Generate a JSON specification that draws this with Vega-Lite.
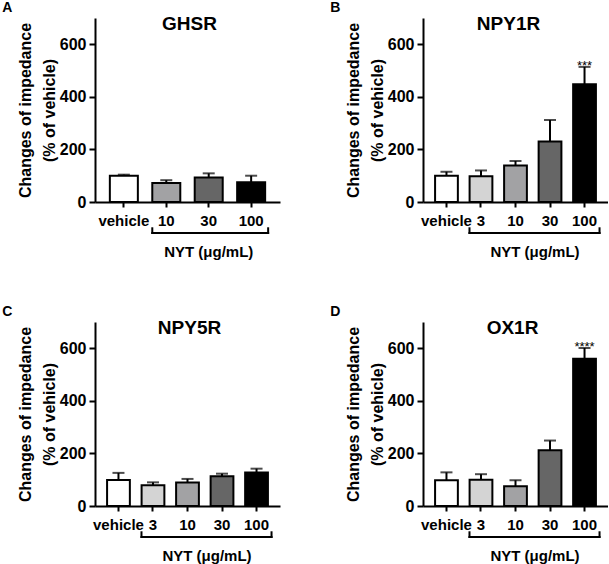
{
  "$schema": "https://vega.github.io/schema/vega-lite/v6.json",
  "background": "white",
  "padding": {"left": 2, "top": 1, "right": 0, "bottom": 0},
  "config": {
    "font": "Liberation Sans",
    "view": {"stroke": null},
    "axis": {"domainColor": "black", "domainWidth": 2, "tickColor": "black", "tickWidth": 2, "labelColor": "black", "labelFontWeight": "bold", "labelFontSize": 15, "titleFontWeight": "bold", "titleColor": "black", "titleFontSize": 16, "grid": false},
    "axisX": {"tickSize": 5, "labelAngle": 0, "labelPadding": 6},
    "axisY": {"tickSize": 6, "labelPadding": 3, "titlePadding": 2, "labelFontSize": 16, "titleLineHeight": 24},
    "title": {"color": "black", "fontWeight": "bold"}
  },
  "data": {"values": [
    {"panel": "A", "dose": "vehicle", "mean": 100, "upper": 104, "sig": ""},
    {"panel": "A", "dose": "10", "mean": 72, "upper": 83, "sig": ""},
    {"panel": "A", "dose": "30", "mean": 93, "upper": 109, "sig": ""},
    {"panel": "A", "dose": "100", "mean": 75, "upper": 100, "sig": ""},
    {"panel": "B", "dose": "vehicle", "mean": 100, "upper": 115, "sig": ""},
    {"panel": "B", "dose": "3", "mean": 98, "upper": 120, "sig": ""},
    {"panel": "B", "dose": "10", "mean": 139, "upper": 156, "sig": ""},
    {"panel": "B", "dose": "30", "mean": 230, "upper": 312, "sig": ""},
    {"panel": "B", "dose": "100", "mean": 448, "upper": 514, "sig": "***"},
    {"panel": "C", "dose": "vehicle", "mean": 99, "upper": 126, "sig": ""},
    {"panel": "C", "dose": "3", "mean": 79, "upper": 90, "sig": ""},
    {"panel": "C", "dose": "10", "mean": 89, "upper": 103, "sig": ""},
    {"panel": "C", "dose": "30", "mean": 113, "upper": 123, "sig": ""},
    {"panel": "C", "dose": "100", "mean": 127, "upper": 142, "sig": ""},
    {"panel": "D", "dose": "vehicle", "mean": 98, "upper": 128, "sig": ""},
    {"panel": "D", "dose": "3", "mean": 100, "upper": 121, "sig": ""},
    {"panel": "D", "dose": "10", "mean": 75, "upper": 98, "sig": ""},
    {"panel": "D", "dose": "30", "mean": 212, "upper": 249, "sig": ""},
    {"panel": "D", "dose": "100", "mean": 560, "upper": 601, "sig": "****"}
  ]},
  "columns": 2,
  "spacing": {"row": 45, "column": 50},
  "concat": [
    {
      "title": {"text": "A", "anchor": "start", "fontSize": 14, "offset": 0, "dx": -15},
      "vconcat": [{
        "width": 185, "height": 184,
        "title": {"text": "GHSR", "fontSize": 19, "anchor": "middle", "frame": "group", "baseline": "alphabetic", "offset": -31, "dx": 2},
        "encoding": {"x": {"field": "dose", "type": "nominal", "scale": {"domain": ["vehicle", "10", "30", "100"], "paddingInner": 0.34, "paddingOuter": 0.35}, "axis": {"title": null}}},
        "layer": [
          {"transform": [{"filter": "datum.panel == 'A'"}], "mark": {"type": "bar", "stroke": "black", "strokeWidth": 2},
           "encoding": {"y": {"field": "mean", "type": "quantitative", "scale": {"domain": [0, 700], "nice": false}, "axis": {"values": [0, 200, 400, 600], "title": ["Changes of impedance", "(% of vehicle)"]}},
                        "fill": {"field": "dose", "type": "nominal", "scale": {"domain": ["vehicle", "3", "10", "30", "100"], "range": ["#ffffff", "#d4d4d4", "#a2a2a4", "#666666", "#000000"]}, "legend": null}}},
          {"transform": [{"filter": "datum.panel == 'A'"}], "mark": {"type": "rule", "strokeWidth": 2, "color": "black"},
           "encoding": {"y": {"field": "mean", "type": "quantitative"}, "y2": {"field": "upper"}}},
          {"transform": [{"filter": "datum.panel == 'A'"}], "mark": {"type": "tick", "thickness": 2, "size": 12, "color": "black", "orient": "horizontal"},
           "encoding": {"y": {"field": "upper", "type": "quantitative"}}},
          {"transform": [{"filter": "datum.panel == 'A'"}], "mark": {"type": "text", "fontSize": 13, "baseline": "alphabetic", "dy": 3, "color": "black"},
           "encoding": {"y": {"field": "upper", "type": "quantitative"}, "text": {"field": "sig"}}},
          {"data": {"values": [{"panel": "A"}]}, "mark": {"type": "rule", "strokeWidth": 2, "color": "black", "strokeCap": "square", "xOffset": -14, "x2Offset": 17},
           "encoding": {"x": {"datum": "10"}, "x2": {"datum": "100"}, "y": {"datum": -118}}},
          {"data": {"values": [{"panel": "A"}]}, "mark": {"type": "rule", "strokeWidth": 2, "color": "black", "strokeCap": "square", "xOffset": -14},
           "encoding": {"x": {"datum": "10"}, "y": {"datum": -118}, "y2": {"datum": -100}}},
          {"data": {"values": [{"panel": "A"}]}, "mark": {"type": "rule", "strokeWidth": 2, "color": "black", "strokeCap": "square", "xOffset": 17},
           "encoding": {"x": {"datum": "100"}, "y": {"datum": -118}, "y2": {"datum": -100}}},
          {"data": {"values": [{"panel": "A"}]}, "mark": {"type": "text", "fontSize": 15, "fontWeight": "bold", "baseline": "middle", "color": "black", "dx": 0},
           "encoding": {"x": {"datum": "30"}, "y": {"datum": -190}, "text": {"value": "NYT (μg/mL)"}}}
        ]
      }]
    },
    {
      "title": {"text": "B", "anchor": "start", "fontSize": 14, "offset": 0, "dx": -15},
      "vconcat": [{
        "width": 185, "height": 184,
        "title": {"text": "NPY1R", "fontSize": 19, "anchor": "middle", "frame": "group", "baseline": "alphabetic", "offset": -31, "dx": -7},
        "encoding": {"x": {"field": "dose", "type": "nominal", "scale": {"domain": ["vehicle", "3", "10", "30", "100"], "paddingInner": 0.34, "paddingOuter": 0.35}, "axis": {"title": null}}},
        "layer": [
          {"transform": [{"filter": "datum.panel == 'B'"}], "mark": {"type": "bar", "stroke": "black", "strokeWidth": 2},
           "encoding": {"y": {"field": "mean", "type": "quantitative", "scale": {"domain": [0, 700], "nice": false}, "axis": {"values": [0, 200, 400, 600], "title": ["Changes of impedance", "(% of vehicle)"]}},
                        "fill": {"field": "dose", "type": "nominal", "scale": {"domain": ["vehicle", "3", "10", "30", "100"], "range": ["#ffffff", "#d4d4d4", "#a2a2a4", "#666666", "#000000"]}, "legend": null}}},
          {"transform": [{"filter": "datum.panel == 'B'"}], "mark": {"type": "rule", "strokeWidth": 2, "color": "black"},
           "encoding": {"y": {"field": "mean", "type": "quantitative"}, "y2": {"field": "upper"}}},
          {"transform": [{"filter": "datum.panel == 'B'"}], "mark": {"type": "tick", "thickness": 2, "size": 12, "color": "black", "orient": "horizontal"},
           "encoding": {"y": {"field": "upper", "type": "quantitative"}}},
          {"transform": [{"filter": "datum.panel == 'B'"}], "mark": {"type": "text", "fontSize": 13, "baseline": "alphabetic", "dy": 3, "color": "black"},
           "encoding": {"y": {"field": "upper", "type": "quantitative"}, "text": {"field": "sig"}}},
          {"data": {"values": [{"panel": "B"}]}, "mark": {"type": "rule", "strokeWidth": 2, "color": "black", "strokeCap": "square", "xOffset": -11.5, "x2Offset": 15},
           "encoding": {"x": {"datum": "3"}, "x2": {"datum": "100"}, "y": {"datum": -118}}},
          {"data": {"values": [{"panel": "B"}]}, "mark": {"type": "rule", "strokeWidth": 2, "color": "black", "strokeCap": "square", "xOffset": -11.5},
           "encoding": {"x": {"datum": "3"}, "y": {"datum": -118}, "y2": {"datum": -100}}},
          {"data": {"values": [{"panel": "B"}]}, "mark": {"type": "rule", "strokeWidth": 2, "color": "black", "strokeCap": "square", "xOffset": 15},
           "encoding": {"x": {"datum": "100"}, "y": {"datum": -118}, "y2": {"datum": -100}}},
          {"data": {"values": [{"panel": "B"}]}, "mark": {"type": "text", "fontSize": 15, "fontWeight": "bold", "baseline": "middle", "color": "black", "dx": -15},
           "encoding": {"x": {"datum": "30"}, "y": {"datum": -190}, "text": {"value": "NYT (μg/mL)"}}}
        ]
      }]
    },
    {
      "title": {"text": "C", "anchor": "start", "fontSize": 14, "offset": 0, "dx": -15},
      "vconcat": [{
        "width": 185, "height": 184,
        "title": {"text": "NPY5R", "fontSize": 19, "anchor": "middle", "frame": "group", "baseline": "alphabetic", "offset": -31, "dx": 2},
        "encoding": {"x": {"field": "dose", "type": "nominal", "scale": {"domain": ["vehicle", "3", "10", "30", "100"], "paddingInner": 0.34, "paddingOuter": 0.35}, "axis": {"title": null}}},
        "layer": [
          {"transform": [{"filter": "datum.panel == 'C'"}], "mark": {"type": "bar", "stroke": "black", "strokeWidth": 2},
           "encoding": {"y": {"field": "mean", "type": "quantitative", "scale": {"domain": [0, 700], "nice": false}, "axis": {"values": [0, 200, 400, 600], "title": ["Changes of impedance", "(% of vehicle)"]}},
                        "fill": {"field": "dose", "type": "nominal", "scale": {"domain": ["vehicle", "3", "10", "30", "100"], "range": ["#ffffff", "#d4d4d4", "#a2a2a4", "#666666", "#000000"]}, "legend": null}}},
          {"transform": [{"filter": "datum.panel == 'C'"}], "mark": {"type": "rule", "strokeWidth": 2, "color": "black"},
           "encoding": {"y": {"field": "mean", "type": "quantitative"}, "y2": {"field": "upper"}}},
          {"transform": [{"filter": "datum.panel == 'C'"}], "mark": {"type": "tick", "thickness": 2, "size": 12, "color": "black", "orient": "horizontal"},
           "encoding": {"y": {"field": "upper", "type": "quantitative"}}},
          {"transform": [{"filter": "datum.panel == 'C'"}], "mark": {"type": "text", "fontSize": 13, "baseline": "alphabetic", "dy": 3, "color": "black"},
           "encoding": {"y": {"field": "upper", "type": "quantitative"}, "text": {"field": "sig"}}},
          {"data": {"values": [{"panel": "C"}]}, "mark": {"type": "rule", "strokeWidth": 2, "color": "black", "strokeCap": "square", "xOffset": -11.5, "x2Offset": 15},
           "encoding": {"x": {"datum": "3"}, "x2": {"datum": "100"}, "y": {"datum": -118}}},
          {"data": {"values": [{"panel": "C"}]}, "mark": {"type": "rule", "strokeWidth": 2, "color": "black", "strokeCap": "square", "xOffset": -11.5},
           "encoding": {"x": {"datum": "3"}, "y": {"datum": -118}, "y2": {"datum": -100}}},
          {"data": {"values": [{"panel": "C"}]}, "mark": {"type": "rule", "strokeWidth": 2, "color": "black", "strokeCap": "square", "xOffset": 15},
           "encoding": {"x": {"datum": "100"}, "y": {"datum": -118}, "y2": {"datum": -100}}},
          {"data": {"values": [{"panel": "C"}]}, "mark": {"type": "text", "fontSize": 15, "fontWeight": "bold", "baseline": "middle", "color": "black", "dx": -15},
           "encoding": {"x": {"datum": "30"}, "y": {"datum": -190}, "text": {"value": "NYT (μg/mL)"}}}
        ]
      }]
    },
    {
      "title": {"text": "D", "anchor": "start", "fontSize": 14, "offset": 0, "dx": -15},
      "vconcat": [{
        "width": 185, "height": 184,
        "title": {"text": "OX1R", "fontSize": 19, "anchor": "middle", "frame": "group", "baseline": "alphabetic", "offset": -31, "dx": -3},
        "encoding": {"x": {"field": "dose", "type": "nominal", "scale": {"domain": ["vehicle", "3", "10", "30", "100"], "paddingInner": 0.34, "paddingOuter": 0.35}, "axis": {"title": null}}},
        "layer": [
          {"transform": [{"filter": "datum.panel == 'D'"}], "mark": {"type": "bar", "stroke": "black", "strokeWidth": 2},
           "encoding": {"y": {"field": "mean", "type": "quantitative", "scale": {"domain": [0, 700], "nice": false}, "axis": {"values": [0, 200, 400, 600], "title": ["Changes of impedance", "(% of vehicle)"]}},
                        "fill": {"field": "dose", "type": "nominal", "scale": {"domain": ["vehicle", "3", "10", "30", "100"], "range": ["#ffffff", "#d4d4d4", "#a2a2a4", "#666666", "#000000"]}, "legend": null}}},
          {"transform": [{"filter": "datum.panel == 'D'"}], "mark": {"type": "rule", "strokeWidth": 2, "color": "black"},
           "encoding": {"y": {"field": "mean", "type": "quantitative"}, "y2": {"field": "upper"}}},
          {"transform": [{"filter": "datum.panel == 'D'"}], "mark": {"type": "tick", "thickness": 2, "size": 12, "color": "black", "orient": "horizontal"},
           "encoding": {"y": {"field": "upper", "type": "quantitative"}}},
          {"transform": [{"filter": "datum.panel == 'D'"}], "mark": {"type": "text", "fontSize": 13, "baseline": "alphabetic", "dy": 3, "color": "black"},
           "encoding": {"y": {"field": "upper", "type": "quantitative"}, "text": {"field": "sig"}}},
          {"data": {"values": [{"panel": "D"}]}, "mark": {"type": "rule", "strokeWidth": 2, "color": "black", "strokeCap": "square", "xOffset": -11.5, "x2Offset": 15},
           "encoding": {"x": {"datum": "3"}, "x2": {"datum": "100"}, "y": {"datum": -118}}},
          {"data": {"values": [{"panel": "D"}]}, "mark": {"type": "rule", "strokeWidth": 2, "color": "black", "strokeCap": "square", "xOffset": -11.5},
           "encoding": {"x": {"datum": "3"}, "y": {"datum": -118}, "y2": {"datum": -100}}},
          {"data": {"values": [{"panel": "D"}]}, "mark": {"type": "rule", "strokeWidth": 2, "color": "black", "strokeCap": "square", "xOffset": 15},
           "encoding": {"x": {"datum": "100"}, "y": {"datum": -118}, "y2": {"datum": -100}}},
          {"data": {"values": [{"panel": "D"}]}, "mark": {"type": "text", "fontSize": 15, "fontWeight": "bold", "baseline": "middle", "color": "black", "dx": -15},
           "encoding": {"x": {"datum": "30"}, "y": {"datum": -190}, "text": {"value": "NYT (μg/mL)"}}}
        ]
      }]
    }
  ]
}
